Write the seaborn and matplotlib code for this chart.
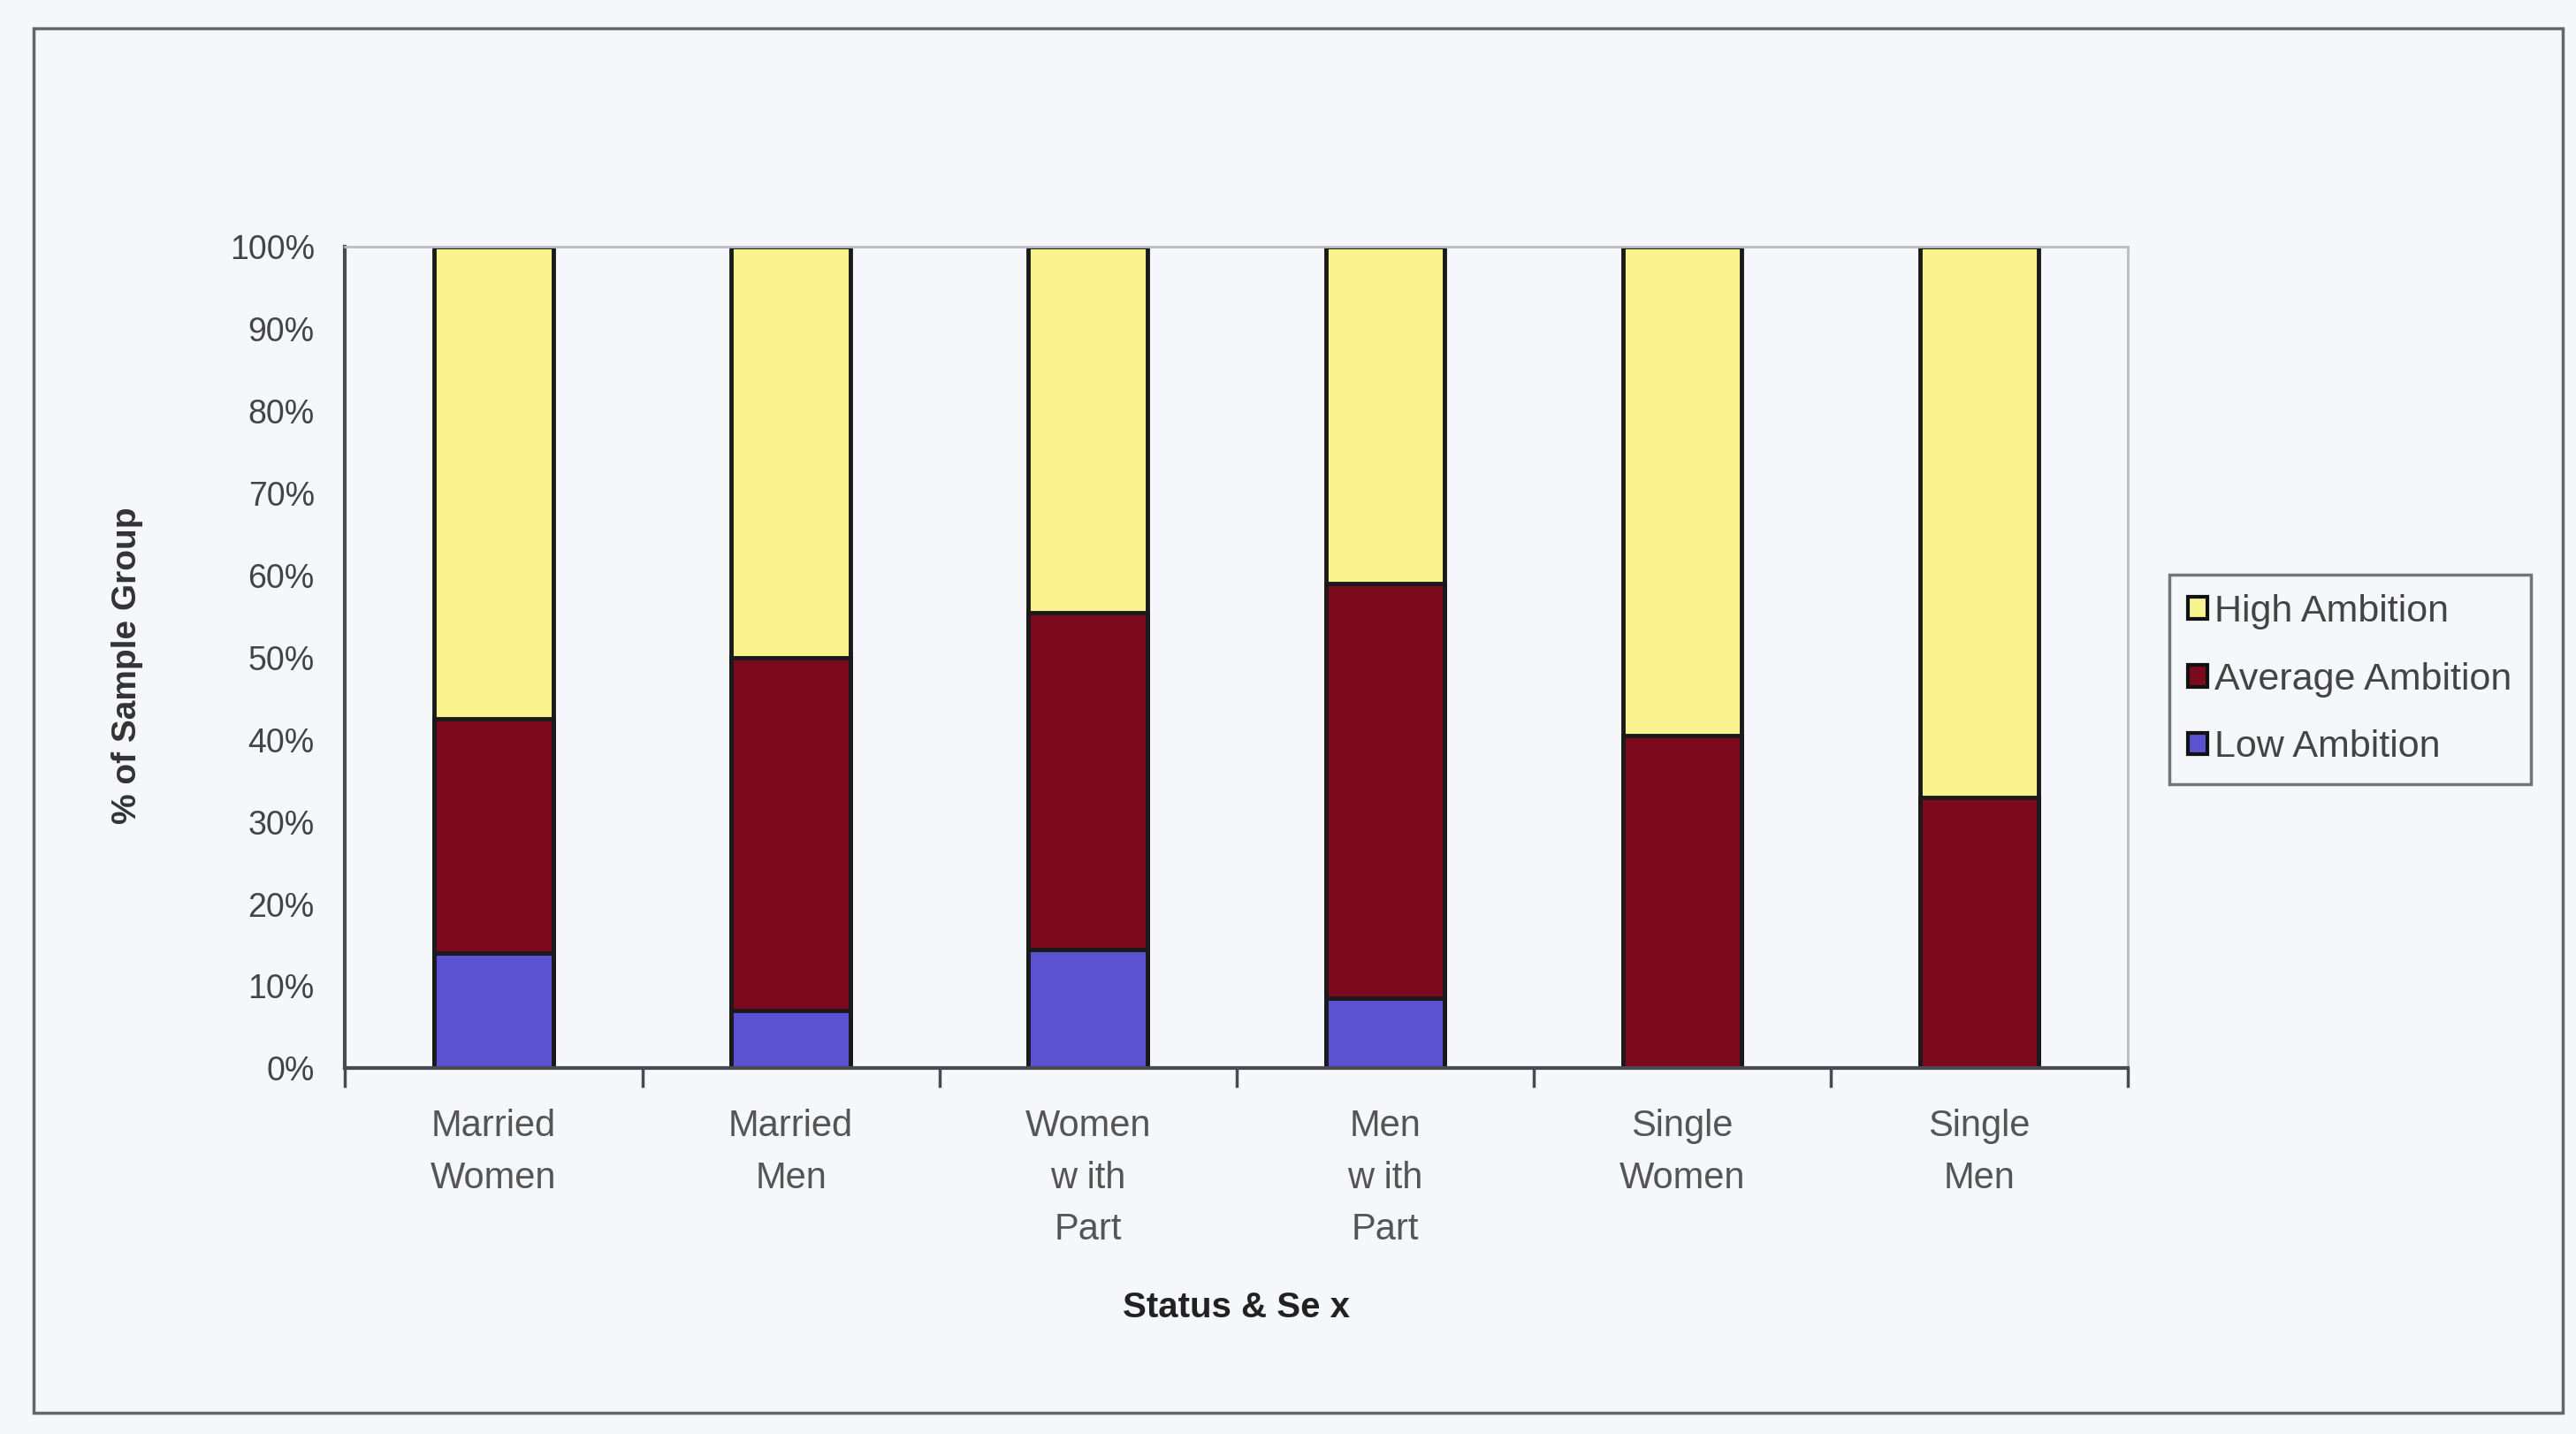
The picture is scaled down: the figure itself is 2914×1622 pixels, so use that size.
import matplotlib
matplotlib.use("Agg")
import matplotlib.pyplot as plt
import matplotlib.patches as mpatches
from matplotlib.ticker import FixedLocator, PercentFormatter
import numpy as np
import pandas as pd
import seaborn as sns

# Ambition level shares (%) by status & sex
categories = ["Married\nWomen", "Married\nMen", "Women\nw ith\nPart",
              "Men\nw ith\nPart", "Single\nWomen", "Single\nMen"]
low_ambition = [14, 7, 14.5, 8.5, 0, 0]
average_ambition = [28.5, 43, 41, 50.5, 40.5, 33]
high_ambition = [57.5, 50, 44.5, 41, 59.5, 67]
series_names = ["High Ambition", "Average Ambition", "Low Ambition"]
y_ticks = [0, 10, 20, 30, 40, 50, 60, 70, 80, 90, 100]

colors = {"High Ambition": "#F8F38E",
          "Average Ambition": "#7C0A1F",
          "Low Ambition": "#5B52D2"}
bg = "#F5F7FB"

sns.set_theme(style="white")
plt.rcParams["font.family"] = ["Liberation Sans", "DejaVu Sans"]

df = pd.DataFrame({
    "group": categories,
    "low": low_ambition,
    "average": average_ambition,
    "high": high_ambition,
})
df["cum_low"] = df["low"]
df["cum_avg"] = df["low"] + df["average"]
df["cum_high"] = df["cum_avg"] + df["high"]

fig = plt.figure(figsize=(29.14, 16.22), dpi=100, facecolor=bg)
ax = fig.add_axes([0.134, 0.255, 0.692, 0.573])
ax.set_facecolor(bg)

# stacked bars: draw cumulative totals back to front
for col, name in [("cum_high", "High Ambition"),
                  ("cum_avg", "Average Ambition"),
                  ("cum_low", "Low Ambition")]:
    sns.barplot(data=df, x="group", y=col, color=colors[name], width=0.4,
                edgecolor="#1a1a1a", linewidth=3.5, saturation=1, ax=ax,
                order=categories)

ax.set_ylim(0, 100)
ax.set_xlim(-0.5, len(categories) - 0.5)
ax.yaxis.set_major_locator(FixedLocator(y_ticks))
ax.yaxis.set_major_formatter(PercentFormatter(decimals=0))

for side in ["top", "right"]:
    ax.spines[side].set_color("#b8bcc4")
    ax.spines[side].set_linewidth(2)
for side in ["left", "bottom"]:
    ax.spines[side].set_color("#4a4a55")
    ax.spines[side].set_linewidth(3)

ax.tick_params(axis="y", direction="inout", length=16, width=2.5,
               colors="#4a4a55", labelcolor="#444444", labelsize=27, pad=17)
ax.tick_params(axis="x", length=0, labelsize=30, labelcolor="#555555", pad=33)
ax.set_xticks(range(len(categories)))
ax.set_xticklabels(categories, linespacing=1.6, va="top")
ax.set_xticks(np.arange(-0.5, len(categories)), minor=True)
ax.tick_params(axis="x", which="minor", direction="out", length=16, width=2.5,
               color="#4a4a55", bottom=True)

ax.set_xlabel("Status & Se x", fontsize=29, fontweight="bold", color="#222222",
              va="center")
ax.xaxis.set_label_coords(0.5, -0.291)
ax.set_ylabel("% of Sample Group", fontsize=28, fontweight="bold",
              color="#333333", va="center")
ax.yaxis.set_label_coords(-0.122, 0.49)

handles = [mpatches.Patch(facecolor=colors[n], edgecolor="#111111",
                          linewidth=3, label=n) for n in series_names]
leg = fig.legend(handles=handles, loc="upper left",
                 bbox_to_anchor=(0.842, 0.599), fontsize=31, frameon=True,
                 fancybox=False, edgecolor="#555555", facecolor=bg,
                 handlelength=0.5, handleheight=0.5, handletextpad=0.2,
                 labelspacing=0.85, borderpad=0.5, borderaxespad=0)
leg.get_frame().set_linewidth(2.5)
for t in leg.get_texts():
    t.set_color("#444444")

# chart area border
fig.add_artist(mpatches.Rectangle((0.013, 0.015), 0.982, 0.965,
                                  transform=fig.transFigure, fill=False,
                                  edgecolor="#666666", linewidth=2.5))

fig.savefig("out.png", dpi=100, facecolor=bg)
